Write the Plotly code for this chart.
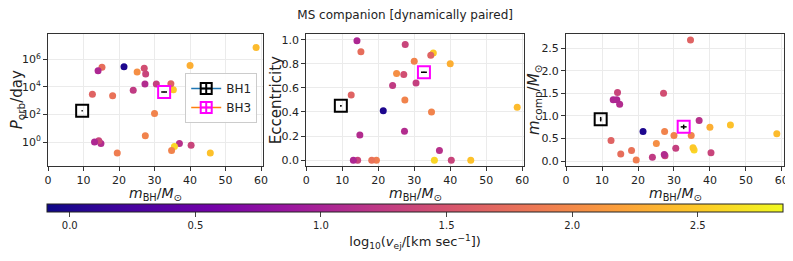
import plotly.graph_objects as go

# ---- data ----
m_bh = [58.6, 45.7, 40.0, 40.3, 37.0, 35.6, 35.3, 34.8, 34.6, 30.5, 30.0, 27.4, 27.1,
        27.5, 27.3, 25.1, 24.0, 21.4, 19.5, 18.2, 15.2, 14.9, 14.3, 14.1, 13.1, 12.5]
p_orb = [7.1e6, 0.166, 3.5e5, 0.60, 0.79, 0.48, 6.3e3, 0.245, 1.7e4, 1.6e4, 117, 2.9, 2.2e5,
         8.5e4, 1.6e4, 1.2e5, 5.8e3, 2.9e5, 0.166, 2.3e3, 2.6e5, 0.79, 1.26, 1.5e5, 1.0, 2.9e3]
ecc = [0.44, 0.00, 0.80, 0.00, 0.08, 0.00, 0.89, 0.40, 0.87, 0.64, 0.82, 0.50, 0.71,
       0.96, 0.24, 0.72, 0.62, 0.41, 0.00, 0.00, 0.90, 0.21, 0.00, 0.99, 0.00, 0.54]
m_comp = [0.61, 0.80, 0.75, 0.19, 0.90, 0.25, 0.30, 0.57, 2.68, 0.29, 0.57, 0.66, 1.50,
          0.12, 0.15, 0.39, 0.09, 0.66, 0.03, 0.24, 0.16, 1.26, 1.52, 1.36, 1.36, 0.46]
log_vej = [2.40, 2.45, 2.30, 1.35, 1.15, 2.60, 2.50, 1.95, 1.65, 1.30, 1.95, 1.95, 1.45,
           1.35, 1.10, 2.05, 1.25, 0.00, 1.90, 1.80, 1.75, 1.10, 1.35, 1.05, 1.05, 1.65]

bh_names = ["BH1", "BH3"]
bh_mass = [9.62, 32.7]
bh_mass_err = [0.18, 0.82]
bh_porb = [185.6, 4253.0]
bh_porb_err = [0.05, 98.0]
bh_ecc = [0.451, 0.729]
bh_ecc_err = [0.005, 0.005]
bh_mcomp = [0.93, 0.76]
bh_mcomp_err = [0.05, 0.05]
bh_edge = ["black", "magenta"]
bh_legend_line = ["#1f77b4", "#ff7f0e"]

cbar_ticks = [0.0, 0.5, 1.0, 1.5, 2.0, 2.5]
cmin, cmax = -0.09, 2.84

FONT = "DejaVu Sans"
OFF = 8                      # page body margin offset of the plot div
W, H = 793 - OFF, 261 - OFF
ML = 47.7 - OFF
MT = 34.3 - OFF
MB = H - (165.7 - OFF)
MR = W - (784 - OFF)
PW, PH = W - ML - MR, H - MT - MB


def fx(px):  # viewport px -> paper fraction
    return (px - OFF - ML) / PW


def fy(py):
    return (H - MB - (py - OFF)) / PH


fig = go.Figure()

panels = [
    ("x", "y", p_orb, bh_porb, bh_porb_err),
    ("x2", "y2", ecc, bh_ecc, bh_ecc_err),
    ("x3", "y3", m_comp, bh_mcomp, bh_mcomp_err),
]

for i, (xa, ya, yv, bhy, bhyerr) in enumerate(panels):
    marker = dict(size=7, color=log_vej, colorscale="Plasma", cmin=cmin, cmax=cmax)
    if i == 0:
        marker["colorbar"] = dict(
            orientation="h", x=fx(415), xanchor="center",
            y=fy(204), yanchor="top", len=736, lenmode="pixels",
            thickness=8, outlinewidth=1, outlinecolor="#222", xpad=0, ypad=0,
            tickvals=cbar_ticks, tickformat=".1f", ticks="outside", ticklen=5,
            tickfont=dict(size=10, family=FONT, color="#222"),
            title=dict(text="log<sub>10</sub>(<i>v</i><sub>ej</sub>/[km sec<sup>−1</sup>])",
                       side="bottom", font=dict(size=13, family=FONT, color="#222")),
        )
    fig.add_trace(go.Scatter(x=m_bh, y=yv, mode="markers", marker=marker,
                             xaxis=xa, yaxis=ya, showlegend=False))
    for j in range(2):
        fig.add_trace(go.Scatter(
            x=[bh_mass[j]], y=[bhy[j]], mode="markers",
            marker=dict(symbol="square-open", size=12, color=bh_edge[j],
                        line=dict(width=2, color=bh_edge[j])),
            error_x=dict(type="data", array=[bh_mass_err[j]], color="black",
                         thickness=1.5, width=0),
            error_y=dict(type="data", array=[bhyerr[j]], color="black",
                         thickness=1.5, width=0),
            xaxis=xa, yaxis=ya, showlegend=False))

# legend-only entries
for j in range(2):
    fig.add_trace(go.Scatter(
        x=[None], y=[None], mode="lines+markers", name=bh_names[j],
        line=dict(color=bh_legend_line[j], width=1.5),
        marker=dict(symbol="square-cross-open", size=11, color=bh_edge[j],
                    line=dict(width=2, color=bh_edge[j])),
        xaxis="x", yaxis="y"))

axis_common = dict(showline=True, mirror=True, linecolor="#333", linewidth=1,
                   ticks="outside", ticklen=4, tickcolor="#333",
                   showgrid=True, gridcolor="#ebebeb", gridwidth=1,
                   zeroline=False, automargin=False,
                   tickfont=dict(size=11, family=FONT, color="#222"))

xlabel = "<i>m</i><sub>BH</sub>/<i>M</i><sub>⊙</sub>"
xdoms_px = [[47.7, 263], [306, 524.3], [566, 784]]
xdoms = [[max(0, fx(a)), min(1, fx(b))] for a, b in xdoms_px]

annotations = []
ytitles = ["<i>P</i><sub>orb</sub>/day", "Eccentricity",
           "<i>m</i><sub>comp</sub>/<i>M</i><sub>⊙</sub>"]
ytitle_x = [17, 276, 534]
for i in range(3):
    cx = (xdoms_px[i][0] + xdoms_px[i][1]) / 2
    annotations.append(dict(text=xlabel, x=fx(cx), y=fy(194), xref="paper", yref="paper",
                            xanchor="center", yanchor="middle", showarrow=False,
                            font=dict(size=14, family=FONT, color="#222")))
    annotations.append(dict(text=ytitles[i], x=fx(ytitle_x[i]), y=fy(100), xref="paper",
                            yref="paper", xanchor="center", yanchor="middle",
                            showarrow=False, textangle=-90,
                            font=dict(size=15, family=FONT, color="#222")))

layout = dict(
    width=W, height=H,
    margin=dict(l=ML, r=MR, t=MT, b=MB, autoexpand=False),
    paper_bgcolor="white", plot_bgcolor="white",
    font=dict(family=FONT, color="#222"),
    title=dict(text="MS companion [dynamically paired]", x=fx(405), xanchor="center",
               xref="paper", y=1 - (15 - OFF) / H, yref="container", yanchor="middle",
               font=dict(size=12, family=FONT, color="#222")),
    showlegend=True,
    legend=dict(x=fx(257), xanchor="right", y=fy(98), yanchor="middle",
                bgcolor="rgba(255,255,255,0.9)", bordercolor="#ccc", borderwidth=1,
                font=dict(size=12, family=FONT, color="#222"), itemwidth=30,
                tracegroupgap=2),
    annotations=annotations,
)

ranges_y = [[-1.73, 7.83], [-0.048, 1.047], [-0.104, 2.81]]
for i in range(3):
    sfx = "" if i == 0 else str(i + 1)
    layout["xaxis" + sfx] = dict(axis_common, domain=xdoms[i], range=[0, 60.6],
                                 tickvals=[0, 10, 20, 30, 40, 50, 60],
                                 anchor="y" + sfx)
    ya = dict(axis_common, domain=[0, 1], anchor="x" + sfx)
    if i == 0:
        ya.update(type="log", range=ranges_y[0], tickvals=[1, 1e2, 1e4, 1e6],
                  ticktext=["10<sup>0</sup>", "10<sup>2</sup>", "10<sup>4</sup>", "10<sup>6</sup>"])
    elif i == 1:
        ya.update(range=ranges_y[1], tickvals=[0, 0.2, 0.4, 0.6, 0.8, 1.0], tickformat=".1f")
    else:
        ya.update(range=ranges_y[2], tickvals=[0, 0.5, 1.0, 1.5, 2.0, 2.5], tickformat=".1f")
    layout["yaxis" + sfx] = ya

fig.update_layout(**layout)
fig.write_html("out.html")
